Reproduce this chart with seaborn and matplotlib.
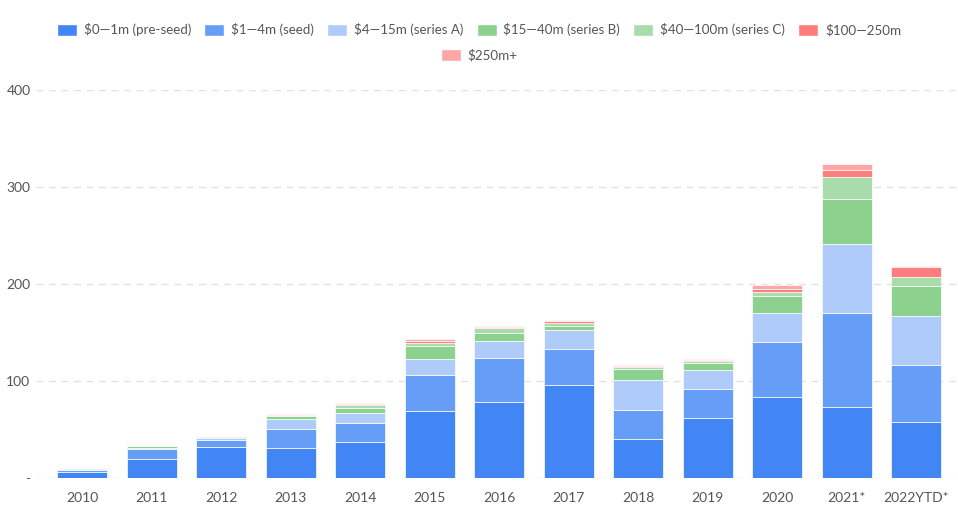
import matplotlib
matplotlib.use("Agg")
import matplotlib.pyplot as plt
import seaborn as sns
import numpy as np
import pandas as pd
from matplotlib.patches import Patch

years = ["2010", "2011", "2012", "2013", "2014", "2015", "2016", "2017",
         "2018", "2019", "2020", "2021*", "2022YTD*"]

series_names = ["$0—1m (pre-seed)", "$1—4m (seed)", "$4—15m (series A)",
                "$15—40m (series B)", "$40—100m (series C)", "$100—250m", "$250m+"]

pre_seed = [6, 19.3, 31.5, 30.5, 37, 69.5, 78.5, 95.5, 40.5, 61.5, 83, 73.5, 57.5]
seed     = [2.3, 10.3, 7.3, 19.6, 19.4, 36.7, 45, 37.5, 29.6, 30, 57.5, 97, 58.7]
series_a = [1.3, 1.7, 2.4, 10.3, 11, 16, 17.5, 19.2, 30.6, 19.5, 30, 70.5, 51.2]
series_b = [0.3, 1.5, 0.6, 3.7, 4.4, 14.1, 8.2, 4.2, 11.5, 7.2, 17.2, 46.4, 30.5]
series_c = [0.2, 0.5, 1.8, 0.8, 3.7, 2.4, 5.2, 3.7, 2.1, 2.8, 4.5, 22.7, 9.0]
s100_250 = [0, 0, 0, 0.3, 0.7, 2.7, 1.0, 1.3, 1.0, 0.6, 3.1, 7.2, 10.3]
s250p    = [0, 0, 0, 0.9, 1.0, 1.8, 1.4, 1.5, 1.4, 1.1, 4.1, 6.2, 1.7]

colors = ["#4285F4", "#669DF6", "#AECBFA", "#8DD18F", "#A8DCAA", "#FF7D7D", "#FFA6A6"]

all_series = [pre_seed, seed, series_a, series_b, series_c, s100_250, s250p]

sns.set_theme(style="white")
plt.rcParams['font.family'] = ['Lato', 'DejaVu Sans']

fig = plt.figure(figsize=(9.58, 5.2), dpi=100)
ax = fig.add_axes([36 / 958, 1 - 478 / 520, 922 / 958, (478 - 90) / 520])

bottom = np.zeros(len(years))
for name, vals, col in zip(series_names, all_series, colors):
    df = pd.DataFrame({"year": years, "value": vals})
    sns.barplot(data=df, x="year", y="value", color=col, bottom=bottom,
                width=0.72, edgecolor="#ffffff", linewidth=0.5, ax=ax,
                saturation=1, errorbar=None, order=years)
    bottom = bottom + np.array(vals)

ax.set_xlim(-0.662, 12.6)
ax.set_ylim(0, 400)
ax.set_yticks([0, 100, 200, 300, 400])
ax.set_yticklabels(["-", "100", "200", "300", "400"])
ax.set_xlabel("")
ax.set_ylabel("")
for s in ax.spines.values():
    s.set_visible(False)
ax.grid(False)
for yv in [0, 100, 200, 300, 400]:
    ax.axhline(yv, color="#e2e2e2", linestyle=(0, (5, 4)), linewidth=1, zorder=0)
ax.set_axisbelow(True)
ax.tick_params(axis="y", length=0, pad=4, labelsize=10, labelcolor="#555555")
ax.tick_params(axis="x", length=0, pad=10, labelsize=10, labelcolor="#555555")
for lbl in ax.get_yticklabels():
    lbl.set_horizontalalignment("right")

handles = [Patch(facecolor=c, edgecolor="white", label=n) for n, c in zip(series_names, colors)]
leg1 = fig.legend(handles=handles[:6], loc="center", bbox_to_anchor=(0.5, 1 - 30 / 520),
                  ncol=6, frameon=False, fontsize=9.6, handlelength=1.5, handleheight=1.1,
                  columnspacing=1.0, handletextpad=0.5, labelcolor="#555555")
leg2 = fig.legend(handles=handles[6:], loc="center", bbox_to_anchor=(0.5, 1 - 55 / 520),
                  ncol=1, frameon=False, fontsize=9.6, handlelength=1.5, handleheight=1.1,
                  handletextpad=0.5, labelcolor="#555555")

fig.savefig("out.png", dpi=100)
